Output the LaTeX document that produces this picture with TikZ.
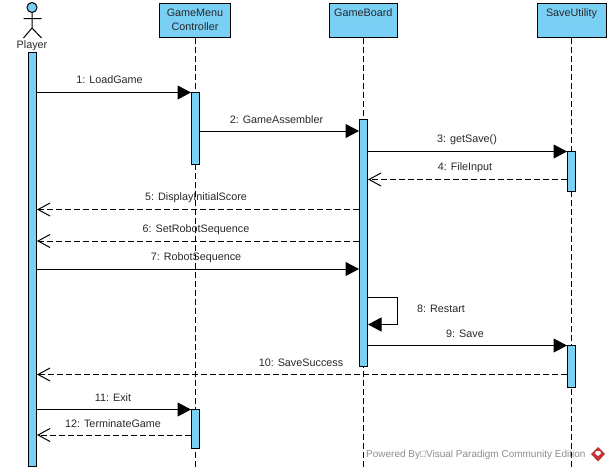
\documentclass[tikz,border=0pt]{standalone}
\usepackage{fontspec}
\setmainfont{Liberation Sans}
\usetikzlibrary{arrows.meta}
\definecolor{vpblue}{RGB}{122,207,245}
\definecolor{vpred}{RGB}{196,50,50}
\definecolor{vptext}{RGB}{40,40,40}
\tikzset{
  objbox/.style={draw, line width=1pt, fill=vpblue, align=center, anchor=north west, inner sep=0pt,
    text=vptext, text depth=2pt, minimum height=34.5pt, font=\fontsize{10.8}{14}\selectfont},
  activation/.style={draw, line width=1pt, fill=vpblue, anchor=north, inner sep=0pt, minimum width=8pt},
  lifeline/.style={line width=1pt, dash pattern=on 6pt off 3pt},
  syncmsg/.style={line width=1pt, -{Triangle[length=13.5pt,width=14pt]}},
  replymsg/.style={line width=1pt, dash pattern=on 6pt off 3pt, -{Straight Barb[length=12pt,width=13pt]}},
  msglabel/.style={text=vptext, inner sep=0pt, font=\fontsize{10.8}{12}\selectfont},
}
\begin{document}
\begin{tikzpicture}[x=1pt, y=-1pt]
  \useasboundingbox (0,0) rectangle (610,471);

  % Object boxes
  \node[objbox, minimum width=71pt] (menubox) at (159,2.5) {GameMenu\\Controller};
  \node[objbox, minimum width=68.5pt] (boardbox) at (328.5,2.5) {GameBoard\\~};
  \node[objbox, minimum width=69pt] (savebox) at (536.5,2.5) {SaveUtility\\~};

  % Lifelines
  \coordinate (lineend) at (0,468);
  \foreach \obj in {menubox, boardbox, savebox} {
    \draw[lifeline] (\obj.south) -- (\obj.south |- lineend);
  }

  % Actor
  \draw[line width=1pt, fill=vpblue] (32,7.5) circle (5);
  \draw[line width=1pt] (32,12.5) -- (32,28) (23.5,18.5) -- (41.5,18.5)
    (23.5,38) -- (32,28) -- (41.5,38);
  \node[msglabel] (player) at (32,45.5) {Player};

  % Activation bars
  \foreach \name/\x/\ya/\yb in {playerbar/32.5/52/466, menubar1/195.5/92/163.5, menubar2/195.5/409/447.5,
    boardbar/363.5/119/366, savebar1/571.5/151/191, savebar2/571.5/345/386.5} {
    \pgfmathsetmacro{\barh}{\yb-\ya}
    \node[activation, minimum height=\barh pt] (\name) at (\x,\ya) {};
  }

  % Calls
  \foreach \src/\dst/\y in {playerbar/menubar1/92.5, menubar1/boardbar/131, boardbar/savebar1/151.5,
    playerbar/boardbar/269, boardbar/savebar2/345.5, playerbar/menubar2/409.5} {
    \draw[syncmsg] (\src.east |- 0,\y) -- (\dst.west |- 0,\y);
  }

  % Replies
  \foreach \src/\dst/\y in {savebar1/boardbar/179.5, boardbar/playerbar/209.5, boardbar/playerbar/241,
    savebar2/playerbar/374.5, menubar2/playerbar/435} {
    \draw[replymsg] (\src.west |- 0,\y) -- (\dst.east |- 0,\y);
  }

  % Self call
  \coordinate (selftop) at (397.5,297);
  \coordinate (selfbot) at (397.5,324.5);
  \draw[syncmsg] (boardbar.east |- selftop) -- (selftop) -- (selfbot) -- (boardbar.east |- selfbot);

  % Labels
  \foreach \n/\x/\y/\txt in {1/109.5/79.5/1: LoadGame, 2/276.5/119.5/2: GameAssembler, 3/467/139.5/3: getSave(),
    4/465/167.5/4: FileInput, 5/196/197.5/5: DisplayInitialScore, 6/196/229.5/6: SetRobotSequence,
    7/196/257.5/7: RobotSequence, 8/441/308.5/8: Restart, 9/465/333.5/9: Save, 10/301/362.5/10: SaveSuccess,
    11/113/397.5/11: Exit, 12/113/423.5/12: TerminateGame} {
    \node[msglabel] (msg\n) at (\x,\y) {\txt};
  }

  % Footer
  \node[msglabel, text=black!45, anchor=west, font=\fontsize{10}{12}\selectfont] (footer) at (366,454.5) {Powered By□Visual Paradigm Community Edition};
  \fill[vpred] (598,447) -- (605,454) -- (598,461.5) -- (591,454) -- cycle;
  \fill[white] (596,451) -- (600,451) -- (601,453.5) -- (598,456) -- (595,453.5) -- cycle;
\end{tikzpicture}
\end{document}
